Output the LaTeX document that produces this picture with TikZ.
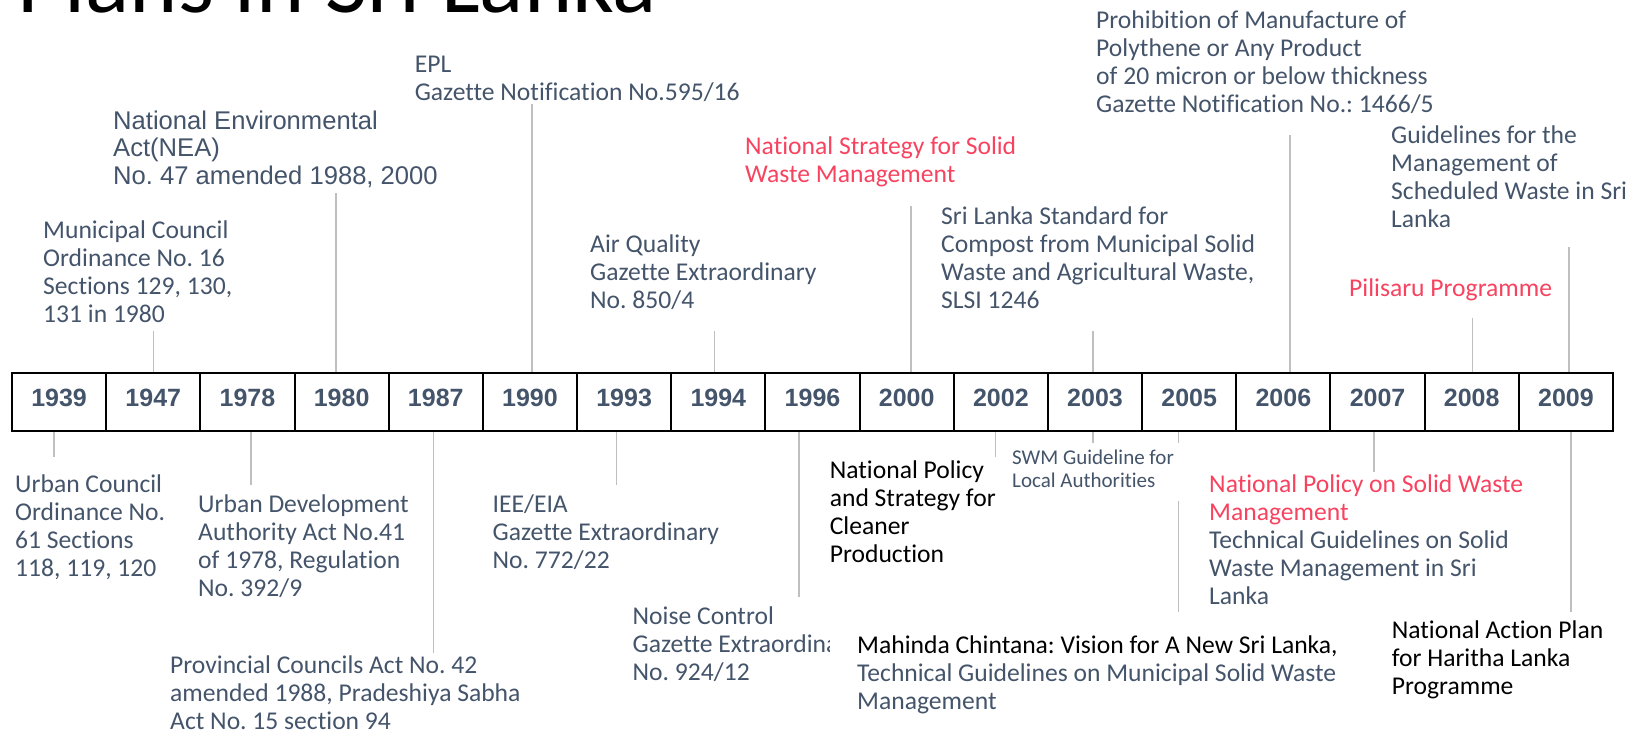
\documentclass[tikz,border=0pt]{standalone}
\usepackage{fontspec}
\setmainfont{Carlito}[Ligatures=NoCommon]
\newfontfamily\arialfont{Liberation Sans}
\definecolor{tgray}{HTML}{44546A}
\definecolor{tred}{HTML}{F7435F}
\definecolor{tline}{HTML}{BFBFBF}
\frenchspacing

\begin{document}
\begin{tikzpicture}[x=1pt, y=-1pt,
    yearbox/.style={draw, line width=2pt, minimum width=94.176pt, minimum height=58pt, inner sep=0pt,
      text=tgray, text height=17.5pt, text depth=8pt, font=\arialfont\bfseries\fontsize{25}{25}\selectfont},
    lbl/.style={anchor=north west, inner sep=0pt, align=left, text=tgray, font=\fontsize{25.6}{28}\selectfont,
      execute at begin node=\strut, execute at end node=\strut},
    tick/.style={draw=tline, line width=1.3pt}]
    \useasboundingbox (0,0) rectangle (1632,733);
    \clip (0,0) rectangle (1632,733);
    \node[anchor=base west, inner sep=0pt, font=\fontsize{92}{92}\selectfont] (title) at (17,13) {Plans in Sri Lanka};
    % time line
    \foreach \yr [count=\i from 0] in {1939,1947,1978,1980,1987,1990,1993,1994,1996,2000,2002,2003,2005,2006,2007,2008,2009}
        \node[yearbox] (y\yr) at ({59.09+94.176*\i},402) {\yr};
    % above the line
    \node[lbl] (mc) at (43,220.4) {Municipal Council\\Ordinance No. 16\\Sections 129, 130,\\131 in 1980};
    \node[lbl, font=\arialfont\fontsize{25.6}{27.5}\selectfont] (nea) at (113,110.5) {National Environmental\\Act(NEA)\\No. 47 amended 1988, 2000};
    \node[lbl] (epl) at (414.6,55.4) {EPL\\Gazette Notification No.595/16};
    \node[lbl] (air) at (590,234.4) {Air Quality\\Gazette Extraordinary\\No. 850/4};
    \node[lbl, text=tred] (nsswm) at (745,136.4) {National Strategy for Solid\\Waste Management};
    \node[lbl] (sls) at (941,206.4) {Sri Lanka Standard for\\Compost from Municipal Solid\\Waste and Agricultural Waste,\\SLSI 1246};
    \node[lbl] (prohib) at (1096,10.4) {Prohibition of Manufacture of\\Polythene or Any Product\\of 20 micron or below thickness\\Gazette Notification No.: 1466/5};
    \node[lbl, text=tred] (pilisaru) at (1349,276.4) {Pilisaru Programme};
    \node[lbl] (guide) at (1391,125.4) {Guidelines for the\\Management of\\Scheduled Waste in Sri\\Lanka};
    % below the line
    \node[lbl] (uc) at (15,474.4) {Urban Council\\Ordinance No.\\61 Sections\\118, 119, 120};
    \node[lbl] (uda) at (198,494.4) {Urban Development\\Authority Act No.41\\of 1978, Regulation\\No. 392/9};
    \node[lbl] (prov) at (170,655.4) {Provincial Councils Act No. 42\\amended 1988, Pradeshiya Sabha\\Act No. 15 section 94};
    \node[lbl] (iee) at (492.5,494.4) {IEE/EIA\\Gazette Extraordinary\\No. 772/22};
    \node[lbl] (noise) at (632.5,606.4) {Noise Control\\Gazette Extraordinary\\No. 924/12};
    \node[lbl, text=black] (npscp) at (829.6,460.4) {National Policy\\and Strategy for\\Cleaner\\Production};
    \node[lbl, fill=white, inner xsep=27pt, inner ysep=23pt] (mahinda) at (830,612.4)
        {\textcolor{black}{Mahinda Chintana: Vision for A New Sri Lanka,}\\Technical Guidelines on Municipal Solid Waste\\Management};
    \draw[tick] ([xshift=-11pt]y2005.south) -- ([xshift=-11pt]y2005.south |- mahinda.north);
    \node[lbl, fill=white, inner xsep=15.5pt, inner ysep=7pt, font=\fontsize{21}{22.7}\selectfont] (swm) at (996.5,443)
        {SWM Guideline for\\Local Authorities};
    \node[lbl] (npswm) at (1209,474.4) {\textcolor{tred}{National Policy on Solid Waste}\\\textcolor{tred}{Management}\\Technical Guidelines on Solid\\Waste Management in Sri\\Lanka};
    \node[lbl, text=black] (nap) at (1391.6,620.4) {National Action Plan\\for Haritha Lanka\\Programme};
    % connectors
    \draw[tick] (y1947.north) -- (y1947.north |- mc.south);
    \draw[tick] ([xshift=-5.5pt]y1980.north) -- ([xshift=-5.5pt]y1980.north |- nea.south);
    \draw[tick, shorten >=-4.4pt] ([xshift=2pt]y1990.north) -- ([xshift=2pt]y1990.north |- epl.south);
    \draw[tick, shorten >=13.6pt] ([xshift=-4pt]y1994.north) -- ([xshift=-4pt]y1994.north |- air.south);
    \draw[tick, shorten >=14.6pt] ([xshift=4.3pt]y2000.north) -- ([xshift=4.3pt]y2000.north |- nsswm.south);
    \draw[tick, shorten >=13.6pt] ([xshift=-2pt]y2003.north) -- ([xshift=-2pt]y2003.north |- sls.south);
    \draw[tick, shorten >=13.6pt] ([xshift=6.6pt]y2006.north) -- ([xshift=6.6pt]y2006.north |- prohib.south);
    \draw[tick, shorten >=13.6pt] ([xshift=0.8pt]y2008.north) -- ([xshift=0.8pt]y2008.north |- pilisaru.south);
    \draw[tick, shorten >=10.6pt] ([xshift=3pt]y2009.north) -- ([xshift=3pt]y2009.north |- guide.south);
    \draw[tick, shorten >=17.4pt] ([xshift=-5pt]y1939.south) -- ([xshift=-5pt]y1939.south |- uc.north);
    \draw[tick, shorten >=9.4pt] ([xshift=3.5pt]y1978.south) -- ([xshift=3.5pt]y1978.south |- uda.north);
    \draw[tick, shorten >=2.4pt] ([xshift=-2.3pt]y1987.south) -- ([xshift=-2.3pt]y1987.south |- prov.north);
    \draw[tick, shorten >=9.4pt] ([xshift=-8pt]y1993.south) -- ([xshift=-8pt]y1993.south |- iee.north);
    \draw[tick, shorten >=9.4pt] ([xshift=-13.5pt]y1996.south) -- ([xshift=-13.5pt]y1996.south |- noise.north);
    \draw[tick, shorten >=3.4pt] ([xshift=-5.4pt]y2002.south) -- ([xshift=-5.4pt]y2002.south |- npscp.north);
    \draw[tick] ([xshift=-2pt]y2003.south) -- ([xshift=-2pt]y2003.south |- swm.north);
    \draw[tick, shorten >=2.4pt] ([xshift=-3.6pt]y2007.south) -- ([xshift=-3.6pt]y2007.south |- npswm.north);
    \draw[tick, shorten >=8.4pt] ([xshift=5pt]y2009.south) -- ([xshift=5pt]y2009.south |- nap.north);
\end{tikzpicture}
\end{document}
